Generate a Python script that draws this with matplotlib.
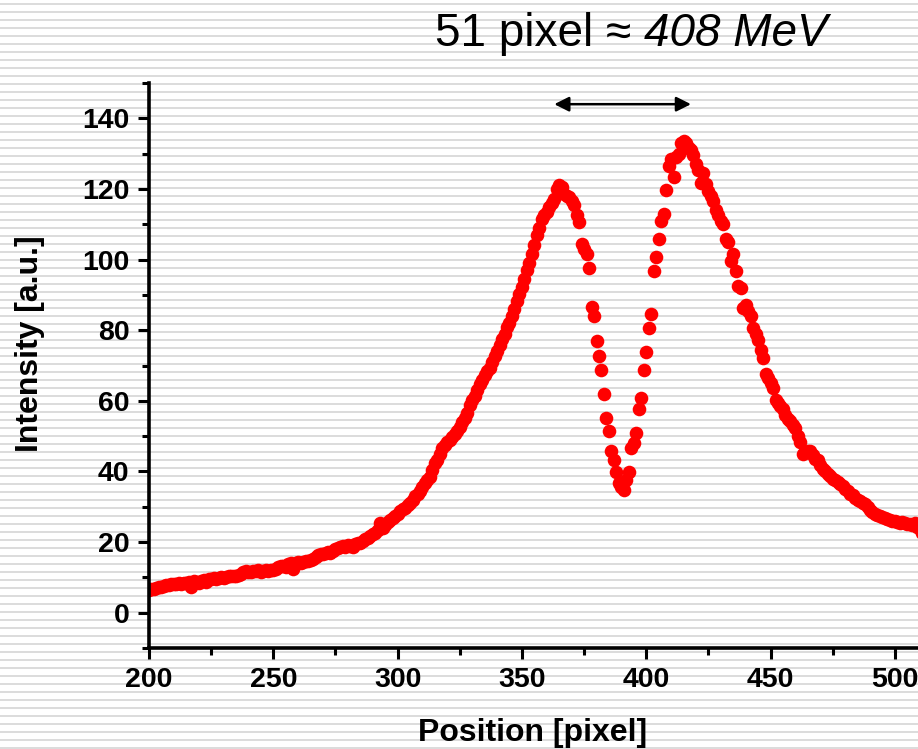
import matplotlib
matplotlib.use("Agg")
import matplotlib.pyplot as plt
from matplotlib.lines import Line2D
from matplotlib.ticker import MultipleLocator

plt.rcParams['font.family'] = ['Liberation Sans', 'DejaVu Sans']

# ---------------- data ----------------
positions = list(range(200, 513))

intensity_200_250 = [
    6.5, 6.8, 6.6, 7.0, 7.2, 7.3, 7.6, 7.8, 7.9, 8.2,
    8.1, 8.0, 8.3, 8.2, 8.4, 8.3, 8.6, 7.3, 8.9, 8.7,
    8.5, 9.0, 9.2, 8.8, 9.5, 9.4, 9.7, 9.6, 9.9, 10.0,
    9.8, 10.2, 10.4, 10.3, 10.5, 10.4, 10.8, 11.0, 11.4, 11.9,
    11.6, 11.4, 11.8, 11.7, 12.1, 11.6, 11.9, 12.0, 11.8, 12.2,
    12.0,
]
intensity_251_300 = [
    12.4, 12.8, 13.1, 13.3, 13.0, 13.8, 14.2, 12.5, 14.0, 14.3,
    14.1, 14.4, 14.6, 14.5, 14.9, 15.3, 15.8, 16.4, 16.7, 16.5,
    16.9, 17.1, 17.0, 17.6, 18.0, 18.3, 18.6, 19.0, 18.7, 19.2,
    19.0, 18.6, 19.5, 19.7, 19.8, 20.3, 20.8, 21.2, 21.6, 22.2,
    22.6, 23.5, 25.3, 24.0, 24.8, 25.6, 26.3, 26.9, 27.5, 28.0,
]
intensity_301_350 = [
    28.8, 29.3, 29.7, 30.4, 31.2, 31.9, 33.0, 33.7, 34.5, 35.6,
    36.8, 37.6, 38.5, 40.4, 42.5, 43.1, 44.8, 46.7, 47.5, 48.3,
    49.0, 49.8, 50.7, 51.5, 52.6, 54.0, 55.2, 56.5, 58.8, 60.3,
    61.5, 63.0, 64.9, 66.0, 67.4, 68.5, 69.4, 71.0, 72.6, 74.2,
    75.8, 77.5, 79.0, 80.8, 82.0, 84.0, 86.0, 88.3, 90.2, 92.1,
]
intensity_351_400 = [
    94.5, 97.0, 99.0, 101.5, 104.0, 107.0, 108.8, 111.5, 112.5, 113.6,
    115.0, 116.0, 117.2, 120.0, 121.0, 120.5, 118.5, 118.0, 117.8, 116.5,
    115.5, 112.5, 110.5, 104.5, 103.0, 101.7, 97.7, 86.5, 84.0, 76.8,
    72.8, 68.8, 61.8, 55.0, 51.5, 45.9, 43.1, 39.7, 36.8, 35.5,
    34.8, 37.5, 39.9, 46.5, 48.0, 51.0, 57.8, 60.9, 68.8, 73.7,
]
intensity_401_450 = [
    80.7, 84.7, 96.9, 100.8, 105.9, 111.0, 113.0, 119.8, 126.6, 128.5,
    123.5, 129.0, 130.0, 133.0, 133.7, 133.0, 131.5, 130.9, 129.5, 127.2,
    125.5, 121.8, 124.6, 121.5, 119.5, 118.1, 116.5, 114.0, 112.5, 111.0,
    110.0, 105.9, 105.0, 99.7, 101.7, 96.9, 92.6, 92.0, 86.4, 87.0,
    85.5, 84.1, 80.7, 79.0, 77.1, 74.5, 72.0, 67.7, 66.5, 65.0,
]
intensity_451_512 = [
    63.7, 60.1, 59.5, 58.6, 57.8, 56.0, 54.9, 54.4, 53.2, 52.4,
    50.0, 48.2, 45.0, 45.4, 45.7, 45.9, 44.6, 43.5, 43.1, 41.8,
    40.6, 40.0, 39.4, 38.8, 38.0, 37.6, 37.0, 36.5, 35.8, 35.0,
    34.4, 33.7, 33.2, 32.6, 32.0, 31.5, 31.2, 30.9, 30.0, 29.2,
    28.6, 28.0, 27.8, 27.4, 27.0, 26.8, 26.6, 26.3, 26.1, 26.0,
    25.8, 25.5, 25.6, 25.3, 25.2, 25.2, 24.8, 25.5, 24.2, 23.8,
    22.5, 21.2,
]
intensity = (intensity_200_250 + intensity_251_300 + intensity_301_350
             + intensity_351_400 + intensity_401_450 + intensity_451_512)

x_ticks = [200, 250, 300, 350, 400, 450, 500]
y_ticks = [0, 20, 40, 60, 80, 100, 120, 140]
peak_left, peak_right = 364, 418
arrow_level = 144
title_plain = '51 pixel \u2248 '
title_italic = '408 MeV'

# ---------------- figure ----------------
W, H = 918, 749
fig = plt.figure(figsize=(W / 100, H / 100), dpi=100)
fig.patch.set_facecolor('white')

# background stripes
for yp in range(4, H, 8):
    fig.add_artist(Line2D([0, 1], [1 - yp / H, 1 - yp / H], transform=fig.transFigure,
                          color='#d9d9d9', lw=1.3, zorder=0))

ax = fig.add_axes([149 / W, 1 - 648 / H, 1 - 149 / W + 0.01, (648 - 83) / H])
ax.patch.set_alpha(0)
ax.plot(positions, intensity, 'o', color='#ff0000', ms=9.8, mec='none', clip_on=True)

ax.set_xlim(200, 513)
ax.set_ylim(-10, 150)
ax.set_xticks(x_ticks)
ax.set_yticks(y_ticks)
ax.xaxis.set_minor_locator(MultipleLocator(25))
ax.yaxis.set_minor_locator(MultipleLocator(10))
for s in ['top', 'right']:
    ax.spines[s].set_visible(False)
for s in ['left', 'bottom']:
    ax.spines[s].set_linewidth(2.6)
ax.tick_params(which='major', length=8, width=2.2, direction='out', pad=6,
               labelsize=20.5)
ax.tick_params(which='minor', length=5, width=2.2, direction='out')
for lab in ax.get_xticklabels() + ax.get_yticklabels():
    lab.set_fontweight('bold')

fig.text(533 / W, 1 - 733 / H, 'Position [pixel]', fontsize=23, fontweight='bold',
         ha='center', va='center')
fig.text(30 / W, 1 - 344 / H, 'Intensity [a.u.]', fontsize=23, fontweight='bold',
         ha='center', va='center', rotation=90)

ax.annotate('', xy=(peak_left - 1, arrow_level), xytext=(peak_right, arrow_level),
            arrowprops=dict(arrowstyle='<|-|>', color='black', lw=1.8,
                            mutation_scale=22, shrinkA=0, shrinkB=0),
            annotation_clip=False)

# title: plain part followed by italic part, total span centred on reference
fs = 33
base_y = 1 - 46 / H
t1 = fig.text(0, base_y, title_plain, fontsize=fs, ha='left', va='baseline')
t2 = fig.text(0, base_y, title_italic, fontsize=fs, style='italic', ha='left', va='baseline')
fig.canvas.draw()
r = fig.canvas.get_renderer()
w1 = t1.get_window_extent(renderer=r).width
w2 = t2.get_window_extent(renderer=r).width
x0 = 631.5 - (w1 + w2) / 2
t1.set_x(x0 / W)
t2.set_x((x0 + w1) / W)

fig.savefig('out.png', dpi=100, facecolor='white')
